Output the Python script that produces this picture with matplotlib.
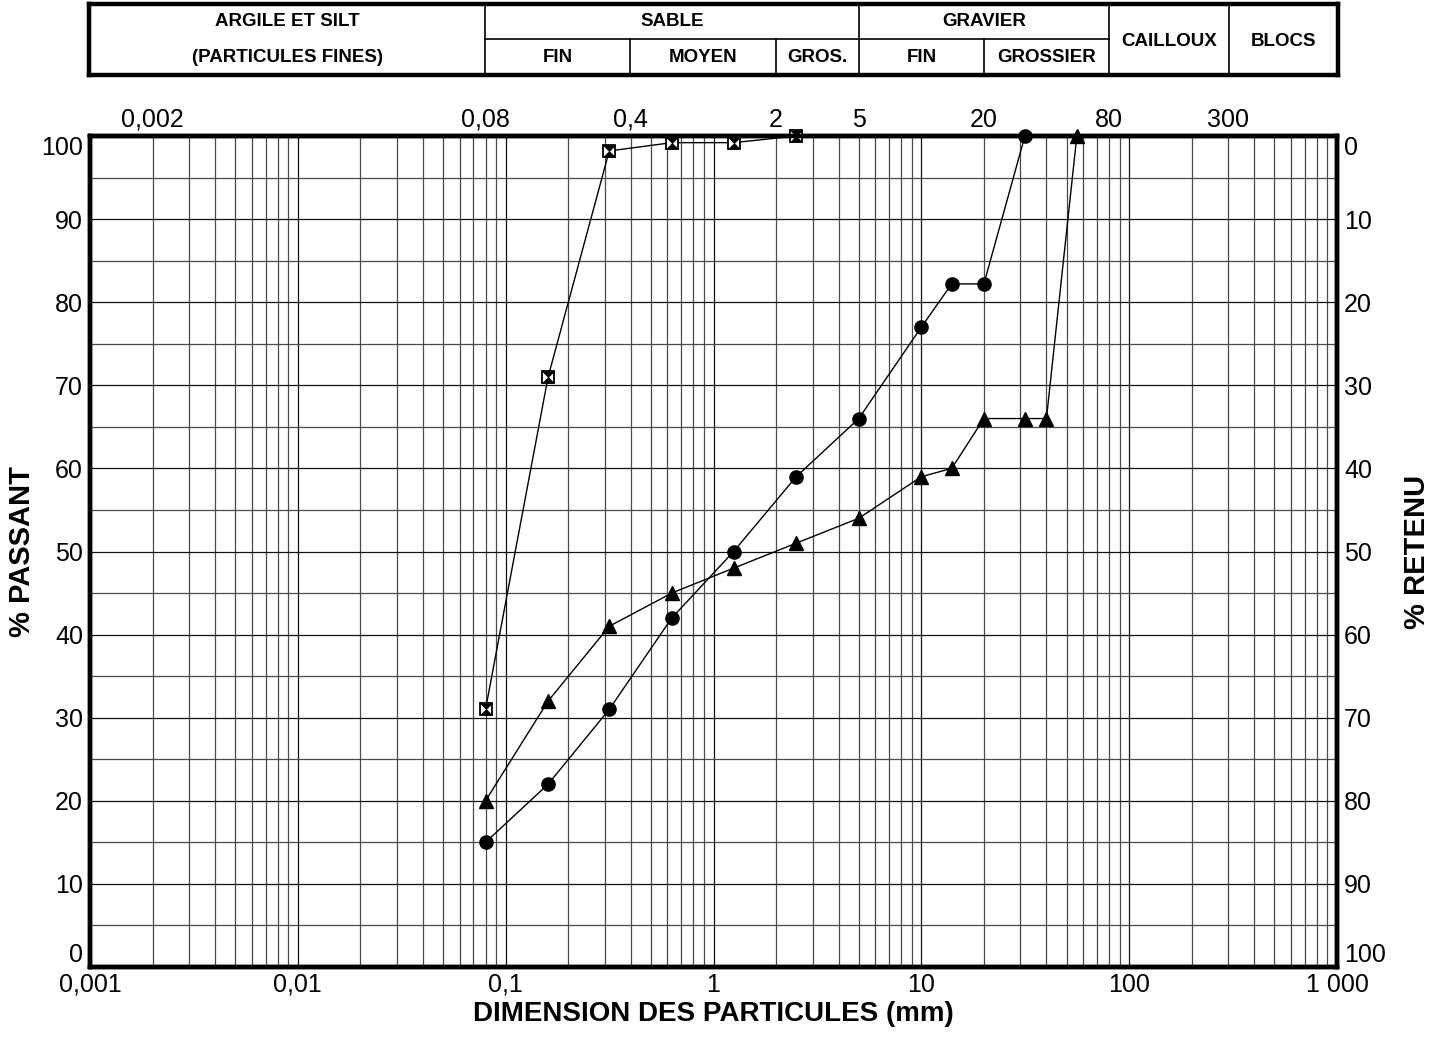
import matplotlib
matplotlib.use("Agg")
import matplotlib.pyplot as plt
import numpy as np
from matplotlib.path import Path
from matplotlib.ticker import FixedLocator, NullFormatter
from matplotlib import font_manager

plt.rcParams['font.family'] = ['Liberation Sans', 'DejaVu Sans']

# ---- data ----
sieve_circle = [0.08, 0.16, 0.315, 0.63, 1.25, 2.5, 5, 10, 14, 20, 31.5]
pass_circle = [15, 22, 31, 42, 50, 59, 66, 77, 82.2, 82.2, 100]

sieve_triangle = [0.08, 0.16, 0.315, 0.63, 1.25, 2.5, 5, 10, 14, 20, 31.5, 40, 56]
pass_triangle = [20, 32, 41, 45, 48, 51, 54, 59, 60, 66, 66, 66, 100]

sieve_square = [0.08, 0.16, 0.315, 0.63, 1.25, 2.5]
pass_square = [31, 71, 98.2, 99.2, 99.2, 100]

bottom_ticks = [0.001, 0.01, 0.1, 1, 10, 100, 1000]
bottom_labels = ['0,001', '0,01', '0,1', '1', '10', '100', '1 000']
top_ticks = [0.002, 0.08, 0.4, 2, 5, 20, 80, 300]
top_labels = ['0,002', '0,08', '0,4', '2', '5', '20', '80', '300']
left_ticks = list(range(0, 101, 10))
right_labels = [str(100 - v) for v in left_ticks]

# header classification table
main_classes = [("ARGILE ET SILT", 0.001, 0.08), ("SABLE", 0.08, 5), ("GRAVIER", 5, 80)]
sub_classes = [("(PARTICULES FINES)", 0.001, 0.08), ("FIN", 0.08, 0.4), ("MOYEN", 0.4, 2),
               ("GROS.", 2, 5), ("FIN", 5, 20), ("GROSSIER", 20, 80)]
full_classes = [("CAILLOUX", 80, 300), ("BLOCS", 300, 1000)]
full_bounds = [0.08, 5, 80, 300]
half_bounds = [0.4, 2, 20]

W, H = 1440, 1040
fig = plt.figure(figsize=(W / 100, H / 100), dpi=100)
fig.patch.set_facecolor('white')

L, R, B, T = 90 / W, 1337 / W, (H - 967) / H, (H - 136) / H
ax = fig.add_axes([L, B, R - L, T - B])
ax.set_xscale('log')
ax.set_xlim(0.001, 1000)
ax.set_ylim(0, 100)

TFS = 18
ax.xaxis.set_major_locator(FixedLocator(bottom_ticks))
ax.xaxis.set_minor_locator(matplotlib.ticker.LogLocator(base=10, subs=np.arange(2, 10), numticks=20))
ax.xaxis.set_minor_formatter(NullFormatter())
ax.set_xticks(bottom_ticks)
ax.set_xticklabels(bottom_labels)
ax.set_yticks(left_ticks)
ax.set_yticks(np.arange(5, 100, 10), minor=True)
ax.grid(True, which='major', color='#111111', lw=0.9)
ax.grid(True, which='minor', color='#4a4a4a', lw=0.9)
ax.tick_params(which='both', length=0)
ax.tick_params(axis='x', labelsize=TFS, pad=4)
ax.tick_params(axis='y', labelsize=TFS, pad=5)
ax.set_axisbelow(True)
ylabs = ax.get_yticklabels()
ylabs[0].set_va('bottom')
ylabs[-1].set_va('top')

for s in ax.spines.values():
    s.set_linewidth(3.2)
    s.set_color('black')

# series
line_kw = dict(color='black', lw=1.0, clip_on=False, zorder=3)
ax.plot(sieve_circle, pass_circle, marker='o', ms=9.5, mfc='black', mec='black', **line_kw)
ax.plot(sieve_triangle, pass_triangle, marker='^', ms=10, mfc='black', mec='black', **line_kw)
ax.plot(sieve_square, pass_square, marker='s', ms=9, mfc='white', mec='black', mew=1.3, **line_kw)
hourglass = Path([(-1, 1), (1, 1), (0, 0), (1, -1), (-1, -1), (0, 0), (-1, 1)],
                 [Path.MOVETO, Path.LINETO, Path.LINETO, Path.LINETO, Path.LINETO, Path.LINETO, Path.CLOSEPOLY])
ax.plot(sieve_square, pass_square, ls='none', marker=hourglass, ms=8, mfc='black', mec='black',
        mew=0.5, clip_on=False, zorder=4)

# top axis
axt = ax.twiny()
axt.set_xscale('log')
axt.set_xlim(ax.get_xlim())
axt.set_xticks(top_ticks)
axt.set_xticklabels(top_labels)
axt.xaxis.set_minor_locator(matplotlib.ticker.NullLocator())
axt.tick_params(which='both', length=0, labelsize=TFS, pad=3)
for s in axt.spines.values():
    s.set_linewidth(3.2)

# right axis
axr = ax.twinx()
axr.set_ylim(0, 100)
axr.set_yticks(left_ticks)
axr.set_yticklabels(right_labels)
axr.tick_params(length=0, labelsize=TFS, pad=5)
rlabs = axr.get_yticklabels()
rlabs[0].set_va('bottom')
rlabs[-1].set_va('top')

ax.set_ylabel('% PASSANT', fontsize=21, fontweight='bold')
ax.yaxis.set_label_coords(-0.0545, 0.5)
axr.set_ylabel('% RETENU', fontsize=21, fontweight='bold', rotation=90)
axr.yaxis.set_label_coords(1.064, 0.5)
ax.set_xlabel('DIMENSION DES PARTICULES (mm)', fontsize=20, fontweight='bold')
ax.xaxis.set_label_coords(0.5, -0.0565)
ax.xaxis.label.set_va('center')
ax.yaxis.label.set_va('center')
axr.yaxis.label.set_va('center')

# header table
TL, TB, TT = 89 / W, (H - 75) / H, (H - 4) / H
axh = fig.add_axes([TL, TB, R - TL + 0.5 / W, TT - TB])
axh.set_xscale('log')
axh.set_xlim(0.001, 1000)
axh.set_ylim(0, 2)
axh.set_xticks([])
axh.set_yticks([])
axh.xaxis.set_minor_locator(matplotlib.ticker.NullLocator())
for s in axh.spines.values():
    s.set_linewidth(3.2)

def gmid(a, b):
    return 10 ** ((np.log10(a) + np.log10(b)) / 2)

# prefer a narrow face for the header if one is installed
hfam = ['Liberation Sans', 'DejaVu Sans']
hfs = 13.5
try:
    fp = font_manager.findfont(font_manager.FontProperties(family='Liberation Sans Narrow', weight='bold'),
                               fallback_to_default=False)
    if 'Narrow' in fp:
        hfam = ['Liberation Sans Narrow', 'Liberation Sans']
        hfs = 15.5
except Exception:
    pass

for xb in full_bounds:
    axh.axvline(xb, color='black', lw=1.2)
for xb in half_bounds:
    axh.plot([xb, xb], [0, 1.02], color='black', lw=1.2)
axh.plot([0.08, 80], [1.02, 1.02], color='black', lw=1.2)

hkw = dict(ha='center', va='center', fontsize=hfs, fontweight='bold', family=hfam)
for name, a, b in main_classes:
    axh.text(gmid(a, b), 1.52, name, **hkw)
for name, a, b in sub_classes:
    axh.text(gmid(a, b), 0.48, name, **hkw)
for name, a, b in full_classes:
    axh.text(gmid(a, b), 0.95, name, **hkw)

fig.savefig('out.png', dpi=100, facecolor='white')
